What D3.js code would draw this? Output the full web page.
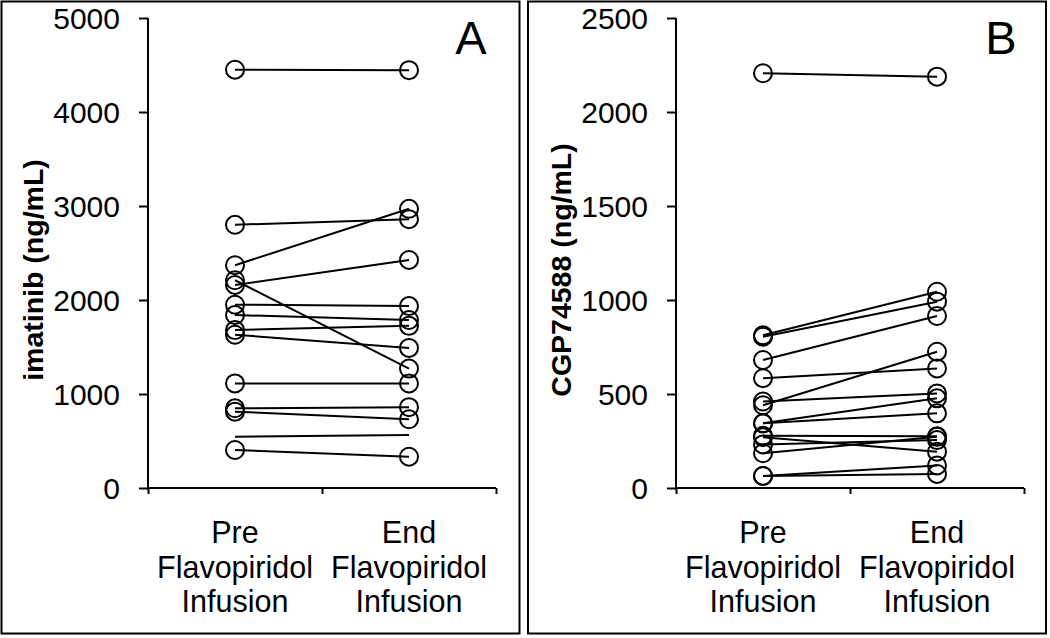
<!DOCTYPE html>
<html><head><meta charset="utf-8">
<script src="https://cdn.jsdelivr.net/npm/d3@7"></script>
<style>
body{margin:0;background:#fff;}
text{font-family:"Liberation Sans",Arial,sans-serif;fill:#000;}
</style></head>
<body><svg id="chart" width="1050" height="638"></svg>
<script>
// ---- data ----
const categories = ["Pre", "End"];
const categoryLabels = [["Pre", "Flavopiridol", "Infusion"], ["End", "Flavopiridol", "Infusion"]];

// Panel A: imatinib (ng/mL)
const imatinibPre = [4450, 2800, 2370, 2160, 2210, 1950, 1840, 1680, 1630, 1113, 848, 812, 546, 404];
const imatinibEnd = [4445, 2860, 2970, 2426, 1270, 1935, 1787, 1725, 1490, 1113, 860, 731, 564, 333];
const imatinibMarkers = [1, 1, 1, 1, 1, 1, 1, 1, 1, 1, 1, 1, 0, 1];
const imatinibTicks = [0, 1000, 2000, 3000, 4000, 5000];

// Panel B: CGP74588 (ng/mL)
const cgpPre = [2206, 812, 805, 681, 584, 440, 460, 344, 344, 278, 270, 232, 185, 64, 64];
const cgpEnd = [2188, 1044, 991, 915, 636, 725, 503, 477, 397, 275, 193, 255, 272, 120, 75];
const cgpMarkers = [1, 1, 1, 1, 1, 1, 1, 1, 1, 1, 1, 1, 1, 1, 1];
const cgpTicks = [0, 500, 1000, 1500, 2000, 2500];

const svg = d3.select("#chart");

function panel(cfg) {
  const g = svg.append("g");
  // frame
  g.append("rect").attr("x", cfg.frame[0]).attr("y", 1.5)
    .attr("width", cfg.frame[1] - cfg.frame[0]).attr("height", 632)
    .attr("fill", "none").attr("stroke", "#000").attr("stroke-width", 2);

  const x = d3.scaleBand().domain(categories).range([cfg.x0, cfg.x0 + 348]).paddingInner(0).paddingOuter(0);
  const xEdges = d3.scaleLinear().domain([0, 2]).range([cfg.x0, cfg.x0 + 348]);
  const y = d3.scaleLinear().domain([0, d3.max(cfg.ticks)]).range([488, 18]);

  // y axis
  const ya = g.append("g").attr("transform", `translate(${cfg.x0},0)`)
    .call(d3.axisLeft(y).tickValues(cfg.ticks).tickSize(9).tickPadding(19).tickFormat(d3.format("d")));
  ya.select(".domain").attr("stroke-width", 2).attr("d", `M-0,${y(d3.max(cfg.ticks))}H0V${y(0)}`);
  ya.selectAll(".tick line").attr("stroke-width", 2);
  ya.selectAll(".tick text").style("font-size", "30px").style("font-family", '"Liberation Sans",Arial,sans-serif').attr("dy", "0.36em");

  // x axis
  const xa = g.append("g").attr("transform", `translate(0,488)`)
    .call(d3.axisBottom(xEdges).tickValues([0, 1, 2]).tickSize(6).tickFormat(""));
  xa.select(".domain").attr("stroke-width", 2).attr("d", `M${cfg.x0},0H${cfg.x0 + 348}`);
  xa.selectAll(".tick line").attr("stroke-width", 2);

  // category labels
  categories.forEach((c, i) => {
    const t = g.append("text").attr("text-anchor", "middle")
      .attr("x", x(c) + x.bandwidth() / 2).attr("y", 543)
      .style("font-size", "30.5px");
    categoryLabels[i].forEach((line, j) => {
      t.append("tspan").attr("x", x(c) + x.bandwidth() / 2).attr("y", 543 + j * 34.5).text(line);
    });
  });

  // y label
  g.append("text").attr("text-anchor", "middle").attr("font-weight", "bold")
    .attr("transform", `translate(${cfg.labelX},${cfg.labelY}) rotate(-90)`)
    .style("font-size", "28.5px").text(cfg.yLabel);

  // panel letter
  g.append("text").attr("x", cfg.letterX).attr("y", 54).attr("text-anchor", "middle")
    .style("font-size", "47px").text(cfg.letter);

  const cx = c => x(c) + x.bandwidth() / 2;
  const pairs = cfg.pre.map((p, i) => ({ pre: p, end: cfg.end[i], m: cfg.markers[i] }));

  g.selectAll("line.pair").data(pairs).enter().append("line").attr("class", "pair")
    .attr("x1", cx("Pre")).attr("x2", cx("End"))
    .attr("y1", d => y(d.pre)).attr("y2", d => y(d.end))
    .attr("stroke", "#000").attr("stroke-width", 2);

  const pts = [];
  pairs.forEach(d => { if (d.m) { pts.push({ c: "Pre", v: d.pre }); pts.push({ c: "End", v: d.end }); } });
  g.selectAll("circle.pt").data(pts).enter().append("circle").attr("class", "pt")
    .attr("cx", d => cx(d.c)).attr("cy", d => y(d.v)).attr("r", 9)
    .attr("fill", "none").attr("stroke", "#000").attr("stroke-width", 2);
}

panel({ frame: [1.5, 519.5], x0: 148, ticks: imatinibTicks, pre: imatinibPre, end: imatinibEnd,
  markers: imatinibMarkers, yLabel: "imatinib (ng/mL)", labelX: 43, labelY: 270, letter: "A", letterX: 471 });
panel({ frame: [528, 1046], x0: 676, ticks: cgpTicks, pre: cgpPre, end: cgpEnd,
  markers: cgpMarkers, yLabel: "CGP74588 (ng/mL)", labelX: 571, labelY: 270, letter: "B", letterX: 1001 });
</script></body></html>
